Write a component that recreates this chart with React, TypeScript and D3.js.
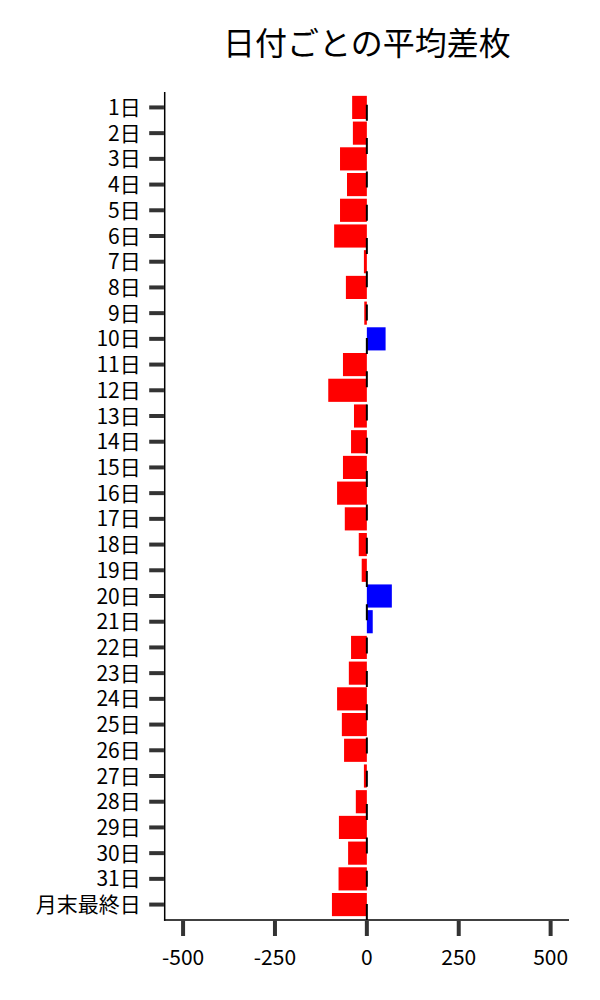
import React from "react";
import * as d3 from "d3";

const categories: string[] = [
  "1日", "2日", "3日", "4日", "5日", "6日", "7日", "8日", "9日", "10日",
  "11日", "12日", "13日", "14日", "15日", "16日", "17日", "18日", "19日", "20日",
  "21日", "22日", "23日", "24日", "25日", "26日", "27日", "28日", "29日", "30日",
  "31日", "月末最終日",
];
const values: number[] = [
  -40, -38, -73, -54, -73, -89, -8, -57, -7, 51,
  -65, -105, -35, -43, -65, -81, -60, -22, -14, 68,
  16, -43, -49, -81, -68, -62, -8, -30, -76, -51,
  -77, -95,
];
const xTicks: number[] = [-500, -250, 0, 250, 500];
const title = "日付ごとの平均差枚";

const W = 600;
const H = 1000;
const left = 164.7;
const right = 569;
const top = 92;
const bottom = 920;
const font = "'Noto Sans CJK JP', 'Noto Sans', sans-serif";

export default function App() {
  const x = d3.scaleLinear().domain([-550, 550]).range([left, right]);
  const y = d3
    .scaleBand<string>()
    .domain(categories)
    .range([top, bottom])
    .paddingInner(0.1)
    .paddingOuter(0.15);
  const x0 = x(0);

  return (
    <svg
      width={W}
      height={H}
      style={{ position: "absolute", left: 0, top: 0, background: "#fff" }}
    >
      <rect x={0} y={0} width={W} height={H} fill="#fff" />
      <text
        x={(left + right) / 2}
        y={55}
        textAnchor="middle"
        fontFamily={font}
        fontSize={32}
        fill="#000"
      >
        {title}
      </text>
      {categories.map((c, i) => {
        const v = values[i];
        const y0 = y(c)!;
        return (
          <rect
            key={c}
            x={Math.min(x(v), x0)}
            y={y0}
            width={Math.abs(x(v) - x0)}
            height={y.bandwidth()}
            fill={v >= 0 ? "#0000ff" : "#ff0000"}
          />
        );
      })}
      <line
        x1={x0}
        x2={x0}
        y1={bottom}
        y2={top}
        stroke="#000"
        strokeWidth={2}
        strokeDasharray="16 17.3"
      />
      {/* spines */}
      <line x1={left} x2={left} y1={top} y2={bottom + 0.75} stroke="#000" strokeWidth={1.5} />
      <line x1={left - 0.75} x2={right} y1={bottom} y2={bottom} stroke="#000" strokeWidth={1.5} />
      {/* y ticks */}
      {categories.map((c) => {
        const cy = y(c)! + y.bandwidth() / 2;
        return (
          <g key={"t" + c}>
            <line x1={left - 15.5} x2={left - 0.75} y1={cy} y2={cy} stroke="#333" strokeWidth={4} />
            <text
              x={left - 24}
              y={cy}
              dy="0.36em"
              textAnchor="end"
              fontFamily={font}
              fontSize={21}
              fill="#000"
            >
              {c}
            </text>
          </g>
        );
      })}
      {/* x ticks */}
      {xTicks.map((t) => (
        <g key={"x" + t}>
          <line x1={x(t)} x2={x(t)} y1={bottom + 0.75} y2={bottom + 16} stroke="#333" strokeWidth={4} />
          <text
            x={x(t)}
            y={957}
            dy="0.36em"
            textAnchor="middle"
            fontFamily={font}
            fontSize={21}
            fill="#000"
          >
            {t}
          </text>
        </g>
      ))}
    </svg>
  );
}
